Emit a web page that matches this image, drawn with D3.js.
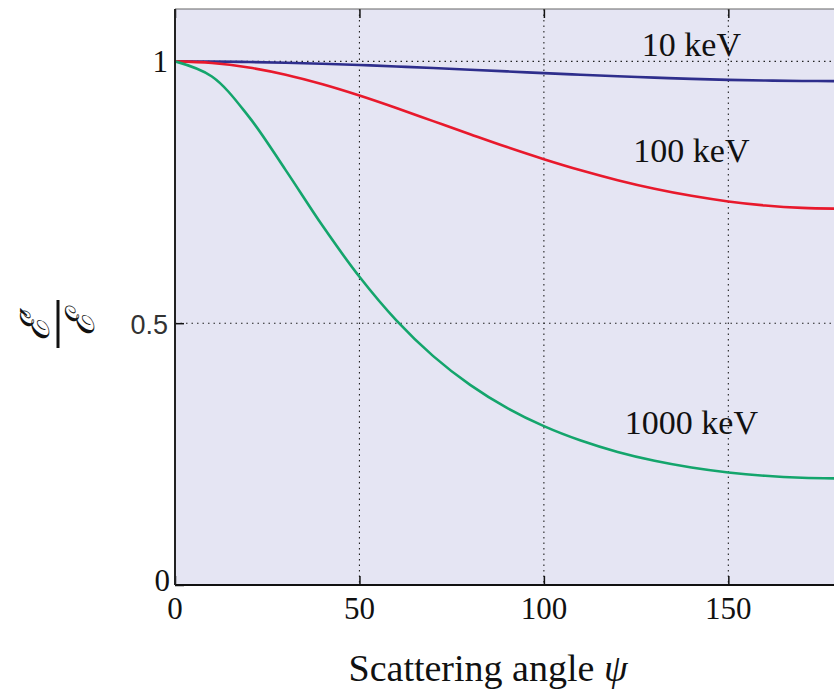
<!DOCTYPE html>
<html><head><meta charset="utf-8">
<script src="https://cdn.jsdelivr.net/npm/d3@7"></script>
<style>
html,body{margin:0;padding:0;background:#fff;overflow:hidden;}
svg{display:block;}
.serif{font-family:'Liberation Serif','Times New Roman',Times,serif;}
.sans{font-family:'Liberation Sans',Arial,sans-serif;}
</style></head>
<body>
<svg id="chart" width="834" height="689"></svg>
<script>
// Data
const angles = [0,10,20,30,40,50,60,70,80,90,100,110,120,130,140,150,160,170,180];
const kev10  = [1,0.9997,0.9988,0.9974,0.9954,0.9931,0.9903,0.9873,0.9841,0.9808,0.9775,0.9744,0.9715,0.9689,0.9666,0.9647,0.9634,0.9626,0.9623];
const kev100 = [1,0.997,0.9883,0.9745,0.9562,0.9347,0.9109,0.8859,0.8609,0.8363,0.8132,0.7920,0.7731,0.7567,0.7432,0.7325,0.7248,0.7202,0.7187];
const kev1000= [1,0.9711,0.8945,0.7923,0.6859,0.5886,0.5054,0.4371,0.3822,0.3382,0.3033,0.2758,0.2541,0.2372,0.2244,0.2150,0.2085,0.2047,0.2035];
const seriesNames = ["10 keV","100 keV","1000 keV"];
const seriesColors = ["#2e2e8c","#e8192c","#14a56c"];
const labelX = [140,140,140];
const labelY = [1.01,0.807,0.289];
const xTicks = [0,50,100,150];
const yTicks = [0,0.5,1];
const yTickLabels = ["0","0.5","1"];

const svg = d3.select("#chart");
const L = 175, R = 839, T = 9, B = 585;
const x = d3.scaleLinear().domain([0,180]).range([L,R]);
const y = d3.scaleLinear().domain([0,1.1]).range([B,T]);

svg.append("defs").append("clipPath").attr("id","clip")
  .append("rect").attr("x",L).attr("y",T).attr("width",R-L).attr("height",B-T);

svg.append("rect").attr("x",L).attr("y",T).attr("width",R-L).attr("height",B-T)
  .attr("fill","#e5e5f3");

// grid
const grid = svg.append("g").attr("stroke","#222").attr("stroke-width",1.1).attr("stroke-dasharray","1.5,4");
grid.selectAll(".gx").data(xTicks.filter(d=>d>0)).join("line")
  .attr("x1",d=>x(d)).attr("x2",d=>x(d)).attr("y1",T).attr("y2",B);
grid.selectAll(".gy").data(yTicks.filter(d=>d>0)).join("line")
  .attr("y1",d=>y(d)).attr("y2",d=>y(d)).attr("x1",L).attr("x2",R);

// axes (ticks inward)
const xAxisB = d3.axisBottom(x).tickValues(xTicks).tickSize(-9).tickFormat(()=> "");
const xAxisT = d3.axisTop(x).tickValues(xTicks).tickSize(-9).tickFormat(()=> "");
const yAxisL = d3.axisLeft(y).tickValues(yTicks).tickSize(-9).tickFormat(()=> "");
function styleAxis(g){ g.select(".domain").remove(); g.selectAll("line").attr("stroke","#111").attr("stroke-width",1.5); }
svg.append("g").attr("transform",`translate(0,${B})`).call(xAxisB).call(styleAxis);
svg.append("g").attr("transform",`translate(0,${T})`).call(xAxisT).call(styleAxis);
svg.append("g").attr("transform",`translate(${L},0)`).call(yAxisL).call(styleAxis);

// lines
const data = [kev10,kev100,kev1000];
const line = d3.line().x((d,i)=>x(angles[i])).y(d=>y(d)).curve(d3.curveCatmullRom);
svg.append("g").attr("clip-path","url(#clip)").selectAll("path").data(data).join("path")
  .attr("d",d=>line(d)).attr("fill","none")
  .attr("stroke",(d,i)=>seriesColors[i]).attr("stroke-width",2.6);

// frame
svg.append("line").attr("x1",L).attr("x2",R).attr("y1",T).attr("y2",T).attr("stroke","#666").attr("stroke-width",1.2);
svg.append("line").attr("x1",L).attr("x2",R).attr("y1",B).attr("y2",B).attr("stroke","#111").attr("stroke-width",2);
svg.append("line").attr("x1",L).attr("x2",L).attr("y1",T).attr("y2",B).attr("stroke","#222").attr("stroke-width",2);

// tick labels
svg.selectAll(".xt").data(xTicks).join("text").attr("class","serif")
  .attr("x",d=>x(d)).attr("y",B+34).attr("text-anchor","middle")
  .attr("font-size",31).attr("fill","#111")
  .text(d=>d);
svg.selectAll(".yt").data(yTicks).join("text")
  .attr("class",(d,i)=> yTickLabels[i].includes(".")?"sans":"serif")
  .attr("x",(d,i)=> i===0 ? L-5 : L-7).attr("y",d=>y(d)+ (d===0?6:11)).attr("text-anchor","end")
  .attr("font-size",(d,i)=> yTickLabels[i].includes(".")?27:31)
  .attr("fill",(d,i)=> yTickLabels[i].includes(".")?"#333":"#111")
  .text((d,i)=>yTickLabels[i]);

// series labels
svg.selectAll(".sl").data(seriesNames).join("text").attr("class","serif")
  .attr("x",(d,i)=>x(labelX[i])).attr("y",(d,i)=>y(labelY[i])).attr("text-anchor","middle")
  .attr("font-size",34).attr("fill","#111")
  .text(d=>d);

// x label
const xl = svg.append("text").attr("class","serif").attr("x",488).attr("y",681).attr("text-anchor","middle")
  .attr("font-size",38).attr("fill","#111");
xl.append("tspan").text("Scattering angle ");
xl.append("tspan").attr("font-style","italic").text("ψ");

// y label (fraction, rotated)
const yl = svg.append("g").attr("transform","translate(58,324) rotate(-90)");
yl.append("text").attr("x",0).attr("y",-9).attr("text-anchor","middle")
  .style("font-family","'DejaVu Serif',serif").attr("font-style","italic").attr("font-size",40).attr("fill","#111").text("ℰ′");
yl.append("line").attr("x1",-24).attr("x2",24).attr("y1",0).attr("y2",0).attr("stroke","#111").attr("stroke-width",3);
yl.append("text").attr("x",0).attr("y",36).attr("text-anchor","middle")
  .style("font-family","'DejaVu Serif',serif").attr("font-style","italic").attr("font-size",40).attr("fill","#111").text("ℰ");
</script>
</body></html>
